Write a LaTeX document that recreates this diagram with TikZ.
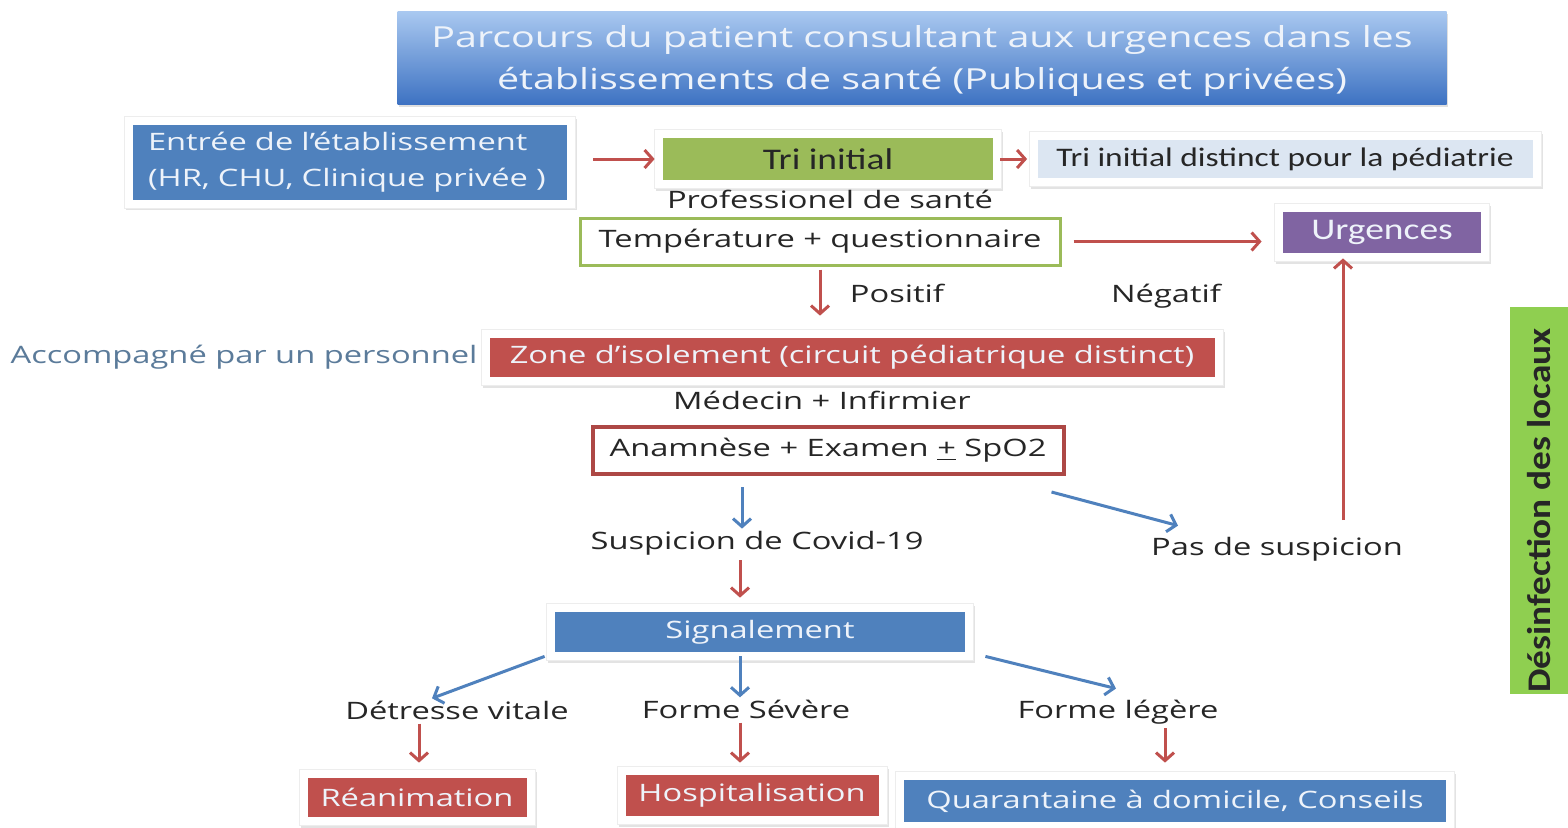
\documentclass[tikz,border=0pt]{standalone}
\usepackage{fontspec}
\setmainfont[FakeStretch=1.36]{Open Sans}
\newfontfamily\calfont[FakeStretch=1.25]{Carlito}
\newfontfamily\rotfont[FakeStretch=1.13]{Carlito}
\usetikzlibrary{arrows.meta,shadows,fit,backgrounds,calc}
\definecolor{blueF}{HTML}{4F81BD}
\definecolor{redF}{HTML}{C0504D}
\definecolor{greenF}{HTML}{9BBB59}
\definecolor{purpleF}{HTML}{8064A2}
\definecolor{lightF}{HTML}{DCE6F2}
\definecolor{darkT}{HTML}{262626}
\definecolor{paleT}{HTML}{EEF3FA}
\definecolor{accT}{HTML}{5B7B9A}
\definecolor{desF}{HTML}{8FCF50}
\definecolor{titleTop}{HTML}{A9C8F0}
\definecolor{titleBot}{HTML}{3D72C2}
\tikzset{
  fnt/.style={font=\fontsize{12pt}{18pt}\selectfont},
  box/.style={rectangle, inner sep=0pt, align=center, fnt},
  bluebox/.style={box, fill=blueF, text=paleT},
  redbox/.style={box, fill=redF, text=paleT},
  card/.style={rectangle, fill=white, draw=black!7, line width=0.4pt,
    drop shadow={shadow xshift=0.8pt, shadow yshift=-1.2pt, opacity=0.22}},
  lbl/.style={fnt, text=darkT, inner sep=0pt},
  rarr/.style={draw=redF, line width=1.5pt, -{Straight Barb[length=4pt,width=9pt]}},
  barr/.style={draw=blueF, line width=1.5pt, -{Straight Barb[length=4pt,width=9pt]}},
}
\begin{document}
\begin{tikzpicture}[x=0.5pt,y=-0.5pt]
\useasboundingbox (0,0) rectangle (1568,827);

% title
\node[box, top color=titleTop, bottom color=titleBot,
  minimum width=524.5pt, minimum height=46.5pt,
  drop shadow={shadow xshift=0.8pt, shadow yshift=-1.2pt, opacity=0.25}]
  (title) at (922,58) {};
\node[box, text=paleT, font=\fontsize{14.5pt}{21pt}\selectfont]
  (titletext) at (922,61) {Parcours du patient consultant aux urgences dans les\\établissements de santé (Publiques et privées)};

% row 1
\node[bluebox, minimum width=217pt, minimum height=37.5pt, text width=202pt,
  align=left] (entree) at (350,162) {Entrée de l’établissement\\(HR, CHU, Clinique privée )};
\node[box, fill=greenF, text=darkT, minimum width=165pt, minimum height=21pt,
  font=\calfont\fontsize{15pt}{17pt}\selectfont] (tri) at (828,159) {Tri initial};
\node[box, fill=lightF, text=darkT, minimum width=247.5pt, minimum height=19pt,
  font=\calfont\fontsize{13.4pt}{15pt}\selectfont] (tridist) at (1285,159) {Tri initial distinct pour la pédiatrie};

\node[lbl] (prof) at (830,199) {Professionel de santé};
\node[box, fill=white, draw=greenF, line width=1.5pt, text=darkT,
  minimum width=240pt, minimum height=23.5pt] (temp) at (820,241.5) {Température + questionnaire};
\node[box, fill=purpleF, text=paleT, minimum width=99pt, minimum height=20.5pt,
  font=\calfont\fontsize{15pt}{17pt}\selectfont] (urg) at (1382,232.5) {Urgences};

\node[lbl] (positif) at (897,293) {Positif};
\node[lbl] (negatif) at (1166,296) {Négatif};

\node[lbl, text=accT] (accomp) at (244,357) {Accompagné par un personnel};
\node[redbox, minimum width=362.5pt, minimum height=19.5pt] (zone) at (852,357.5) {Zone d’isolement (circuit pédiatrique distinct)};
\node[lbl] (medecin) at (822,400) {Médecin + Infirmier};
\node[box, fill=white, draw=redF!90!black, line width=2pt, text=darkT,
  minimum width=235.5pt, minimum height=23.5pt] (anam) at (828,450.5) {Anamnèse + Examen \underline{+} SpO2};

\node[lbl] (susp) at (757,543) {Suspicion de Covid-19};
\node[lbl] (pas) at (1277,549) {Pas de suspicion};

\node[bluebox, minimum width=205pt, minimum height=20pt] (signal) at (760,632) {Signalement};

\node[lbl] (detresse) at (457,710) {Détresse vitale};
\node[lbl] (severe) at (746,709) {Forme Sévère};
\node[lbl] (legere) at (1118,712) {Forme légère};

\node[redbox, minimum width=109.5pt, minimum height=19.5pt] (rea) at (417,797.5) {Réanimation};
\node[redbox, minimum width=126.5pt, minimum height=20.5pt] (hosp) at (752,795.5) {Hospitalisation};
\node[bluebox, minimum width=271pt, minimum height=21pt] (quar) at (1175,801) {Quarantaine à domicile, Conseils};

\node[box, fill=desF, text=darkT, rotate=90, minimum width=193.5pt, minimum height=29pt,
  font=\rotfont\bfseries\fontsize{16.5pt}{18pt}\selectfont] (desinf) at (1539,500.5) {\raisebox{-1pt}{Désinfection des locaux}\hspace*{10pt}};

% page and cards
\begin{scope}[on background layer]
\fill[white] (0,0) rectangle (1568,827);
\node[card, fit=(entree), inner sep=4pt] (entreecard) {};
\node[card, fit=(tri), inner sep=4pt] (tricard) {};
\node[card, fit=(tridist), inner sep=4pt] (tridistcard) {};
\node[card, fit=(urg), inner sep=4pt] (urgcard) {};
\node[card, fit=(zone), inner sep=4pt] (zonecard) {};
\node[card, fit=(signal), inner sep=4pt] (signalcard) {};
\node[card, fit=(rea), inner sep=4pt] (reacard) {};
\node[card, fit=(hosp), inner sep=4pt] (hospcard) {};
\node[card, fit=(quar), inner sep=4pt] (quarcard) {};
\end{scope}

% connectors
\draw[rarr] ($(entree.east |- tri.west)+(26,0)$) -- ($(tri.west)+(-8,0)$);
\draw[rarr] ($(tri.east)+(7,0)$) -- ($(tridist.west)+(-10,0)$);
\draw[rarr] ($(temp.east)+(12,0)$) -- ($(temp.east -| urg.west)+(-21,0)$);
\draw[rarr] ($(temp.south)+(0,3)$) -- ($(temp.south |- zone.north)+(0,-22)$);
\coordinate (pastop) at (1343,520);
\draw[rarr] (pastop) -- ($(pastop |- urg.south)+(0,5)$);
\draw[barr] ($(anam.south)+(-86,11)$) -- ($(susp.north)+(-15,-2)$);
\draw[barr] ($(anam.south east)+(-14,16)$) -- ($(pas.north)+(-99,-11)$);
\draw[rarr] ($(susp.south)+(-17,5)$) -- ($(signal.north)+(-20,-14)$);
\draw[barr] ($(signal.south west)+(-10,4)$) -- ($(detresse.north)+(-25,-2)$);
\draw[barr] ($(signal.south)+(-20,4)$) -- ($(severe.north)+(-6,-2)$);
\draw[barr] ($(signal.south east)+(20,4)$) -- ($(legere.north)+(-2,-11)$);
\draw[rarr] ($(detresse.south)+(-38,4)$) -- ($(rea.north)+(2,-15)$);
\draw[rarr] ($(severe.south)+(-6,4)$) -- ($(hosp.north)+(-12,-12)$);
\draw[rarr] ($(legere.south)+(47,4)$) -- ($(quar.north)+(-10,-17)$);
\end{tikzpicture}
\end{document}
